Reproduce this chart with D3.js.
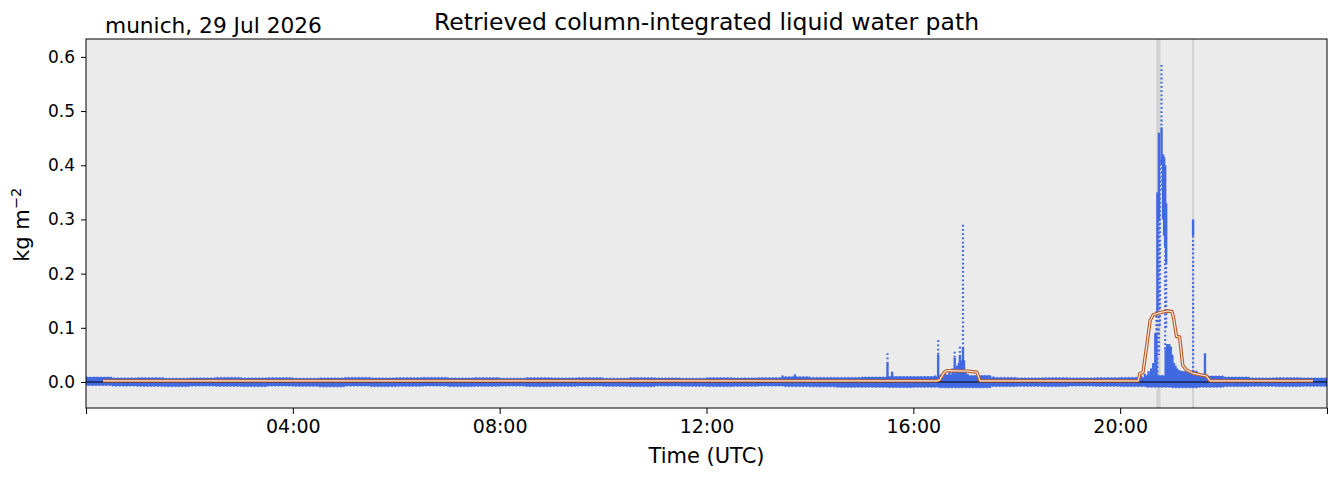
<!DOCTYPE html>
<html>
<head>
<meta charset="utf-8">
<script src="https://cdn.jsdelivr.net/npm/d3@7"></script>
<style>
  body { margin: 0; background: #fff; }
  text { font-family: "DejaVu Sans", sans-serif; }
</style>
</head>
<body>
<svg id="chart"></svg>
<script>
// liquid water path, one day of retrievals (time in hours UTC, values in kg m-2)

// background noise band of the retrieval, every half hour
const noiseT = [0, 0.5, 1, 1.5, 2, 2.5, 3, 3.5, 4, 4.5, 5, 5.5, 6, 6.5, 7, 7.5, 8, 8.5, 9, 9.5,
  10, 10.5, 11, 11.5, 12, 12.5, 13, 13.5, 14, 14.5, 15, 15.5, 16, 16.5, 17, 17.5, 18, 18.5, 19, 19.5,
  20, 20.5, 21, 21.5, 22, 22.5, 23, 23.5, 24];
const noiseHi = [0.009, 0.0075, 0.008, 0.007, 0.0075, 0.0085, 0.0075, 0.008, 0.007, 0.0075, 0.0085, 0.0075, 0.008, 0.0085, 0.0075, 0.008, 0.007, 0.008, 0.0075, 0.008,
  0.007, 0.008, 0.0075, 0.007, 0.008, 0.0075, 0.008, 0.0095, 0.0085, 0.0085, 0.009, 0.01, 0.01, 0.013, 0.012, 0.0085, 0.0075, 0.008, 0.0075, 0.008,
  0.0085, 0.012, 0.02, 0.011, 0.009, 0.0075, 0.008, 0.0075, 0.008];
const noiseLo = [-0.0065, -0.0075, -0.008, -0.0085, -0.0075, -0.008, -0.0085, -0.0075, -0.008, -0.009, -0.0075, -0.0085, -0.008, -0.0075, -0.0085, -0.008, -0.0075, -0.0085, -0.008, -0.0075,
  -0.008, -0.0085, -0.0075, -0.008, -0.0085, -0.008, -0.0075, -0.0085, -0.009, -0.0095, -0.0095, -0.01, -0.0095, -0.0105, -0.0105, -0.0085, -0.008, -0.0085, -0.0075, -0.008,
  -0.0085, -0.0095, -0.0105, -0.0095, -0.0085, -0.008, -0.0085, -0.008, -0.0085];

// dense runs of retrieved points: time, lower value, upper value
const denseT  = [13.47, 13.71, 15.50, 15.59, 16.42, 16.48, 16.62, 16.70, 16.76, 16.80, 16.84, 16.88, 16.90, 16.94, 16.96, 16.98, 17.01, 17.05, 17.55,
  20.40, 20.48, 20.55, 20.60, 20.64, 20.68, 20.70, 20.72, 20.75, 20.80, 20.83, 20.85, 20.87, 20.89, 20.88, 20.91, 20.93, 20.95, 20.98, 21.01,
  21.04, 21.07, 21.10, 21.14, 21.18, 21.22, 21.26, 21.30, 21.35, 21.41, 21.41, 21.46, 21.64, 21.93];
const denseLo = [0, 0, 0, 0, 0, 0, 0, 0, 0, 0, 0, 0, 0, 0, 0, 0, 0, 0, 0,
  0, 0, 0, 0, 0, 0, 0, 0.13, 0.30, 0.40, 0.30, 0.27, 0.25, 0.22, 0, 0, 0, 0, 0, 0,
  0, 0, 0, 0, 0, 0, 0, 0, 0, 0, 0.27, 0, 0, 0];
const denseHi = [0.012, 0.014, 0.035, 0.019, 0.012, 0.05, 0.015, 0.02, 0.025, 0.045, 0.03, 0.035, 0.05, 0.04, 0.065, 0.04, 0.022, 0.015, 0.01,
  0.012, 0.015, 0.02, 0.025, 0.035, 0.09, 0.09, 0.35, 0.46, 0.47, 0.42, 0.415, 0.40, 0.33, 0.06, 0.07, 0.065, 0.07, 0.065, 0.05,
  0.035, 0.03, 0.025, 0.022, 0.02, 0.018, 0.015, 0.013, 0.012, 0.02, 0.30, 0.01, 0.053, 0.01];

// scattered retrieved points above the dense runs
const sparseT  = [15.50, 16.48, 16.80, 16.90, 16.96, 20.70, 20.72, 20.75, 20.77, 20.80, 20.81, 20.87, 20.89, 21.41];
const sparseLo = [0.035, 0.05, 0.045, 0.05, 0.065, 0.09, 0.0, 0.05, 0.10, 0.47, 0.35, 0.06, 0.10, 0.02];
const sparseHi = [0.053, 0.077, 0.056, 0.065, 0.29, 0.13, 0.13, 0.30, 0.41, 0.585, 0.42, 0.25, 0.22, 0.27];

// smoothed liquid water path
const smoothT = [0.33, 16.45, 16.51, 16.60, 16.65, 17.06, 17.23, 17.29, 20.35, 20.38, 20.44, 20.52, 20.58, 20.64,
  20.77, 20.91, 21.00, 21.03, 21.09, 21.15, 21.21, 21.28, 21.41, 21.67, 21.74, 23.73];
const smoothV = [0.002, 0.002, 0.004, 0.018, 0.021, 0.020, 0.018, 0.002, 0.002, 0.016, 0.017, 0.071, 0.114, 0.124,
  0.128, 0.131, 0.130, 0.120, 0.084, 0.083, 0.031, 0.022, 0.016, 0.011, 0.002, 0.002];

// flagged periods (grey bands)
const flagStart = [20.70, 21.39];
const flagEnd   = [20.78, 21.43];

const xTicks = [0, 4, 8, 12, 16, 20, 24];
const yTicks = [0, 0.1, 0.2, 0.3, 0.4, 0.5, 0.6];

const width = 1339, height = 478;
const margin = { top: 39, right: 12, bottom: 70, left: 86 };
const innerW = width - margin.left - margin.right;
const innerH = height - margin.top - margin.bottom;

const svg = d3.select("#chart").attr("width", width).attr("height", height);

const x = d3.scaleLinear().domain([0, 24]).range([0, innerW]);
const y = d3.scaleLinear().domain([-0.048, 0.633]).range([innerH, 0]);

const g = svg.append("g").attr("transform", `translate(${margin.left},${margin.top})`);

svg.append("defs").append("clipPath").attr("id", "clip")
  .append("rect").attr("width", innerW).attr("height", innerH);

g.append("rect").attr("width", innerW).attr("height", innerH).attr("fill", "#ebebeb");

const plot = g.append("g").attr("clip-path", "url(#clip)");

// grey flag bands
plot.selectAll("rect.flag")
  .data(flagStart.map((s, i) => [s, flagEnd[i]]))
  .join("rect")
  .attr("class", "flag")
  .attr("x", d => x(d[0]))
  .attr("width", d => x(d[1]) - x(d[0]))
  .attr("y", 0)
  .attr("height", innerH)
  .attr("fill", "#d2d2d2");

// noise band
const noise = noiseT.map((t, i) => ({ t, lo: noiseLo[i], hi: noiseHi[i] }));
plot.append("path")
  .datum(noise)
  .attr("fill", "royalblue")
  .attr("stroke", "royalblue")
  .attr("stroke-width", 0.8)
  .attr("stroke-dasharray", "2,1.5")
  .attr("d", d3.area().curve(d3.curveStepAfter)
    .x(d => x(d.t)).y0(d => y(d.lo)).y1(d => y(d.hi)));

// dense runs
plot.append("g")
  .attr("stroke", "royalblue")
  .attr("stroke-width", 2.4)
  .selectAll("line")
  .data(denseT.map((t, i) => ({ t, lo: denseLo[i], hi: denseHi[i] })))
  .join("line")
  .attr("x1", d => x(d.t)).attr("x2", d => x(d.t))
  .attr("y1", d => y(d.lo)).attr("y2", d => y(d.hi));

// scattered points
plot.append("g")
  .attr("stroke", "royalblue")
  .attr("stroke-width", 2.2)
  .attr("stroke-dasharray", "1.8,2.4")
  .selectAll("line")
  .data(sparseT.map((t, i) => ({ t, lo: sparseLo[i], hi: sparseHi[i] })))
  .join("line")
  .attr("x1", d => x(d.t)).attr("x2", d => x(d.t))
  .attr("y1", d => y(d.hi)).attr("y2", d => y(d.lo));

// zero line
plot.append("line")
  .attr("x1", 0).attr("x2", innerW)
  .attr("y1", y(0)).attr("y2", y(0))
  .attr("stroke", "#000").attr("stroke-width", 1);

// smoothed line with light core
const smooth = smoothT.map((t, i) => ({ t, v: smoothV[i] }));
const line = d3.line().x(d => x(d.t)).y(d => y(d.v));
plot.append("path").datum(smooth)
  .attr("fill", "none").attr("stroke", "#b85a26").attr("stroke-width", 3.4)
  .attr("stroke-linejoin", "round").attr("d", line);
plot.append("path").datum(smooth)
  .attr("fill", "none").attr("stroke", "#fbe9dc").attr("stroke-width", 1.2)
  .attr("stroke-linejoin", "round").attr("d", line);

// frame
g.append("rect").attr("width", innerW).attr("height", innerH)
  .attr("fill", "none").attr("stroke", "#000").attr("stroke-width", 1);

// axes
const pad = n => String(n).padStart(2, "0");
const xAxis = g.append("g")
  .attr("transform", `translate(0,${innerH})`)
  .call(d3.axisBottom(x).tickValues(xTicks).tickSize(6).tickPadding(6)
    .tickFormat(h => (h > 0 && h < 24) ? `${pad(h)}:00` : ""));
xAxis.select(".domain").remove();
xAxis.selectAll("text").attr("font-size", 19).attr("fill", "#000")
  .style("font-family", "DejaVu Sans");

const yAxis = g.append("g")
  .call(d3.axisLeft(y).tickValues(yTicks).tickSize(5).tickPadding(6)
    .tickFormat(d3.format(".1f")));
yAxis.select(".domain").remove();
yAxis.selectAll("text").attr("font-size", 17).attr("fill", "#000")
  .style("font-family", "DejaVu Sans");

// labels
svg.append("text")
  .attr("x", margin.left + innerW / 2).attr("y", 463)
  .attr("text-anchor", "middle").attr("font-size", 21)
  .text("Time (UTC)");

const yl = svg.append("text")
  .attr("transform", `translate(29,${margin.top + y(0.29)}) rotate(-90)`)
  .attr("text-anchor", "middle").attr("font-size", 21);
yl.append("tspan").text("kg m");
yl.append("tspan").attr("font-size", 14.5).attr("dy", -8).text("\u22122");

svg.append("text")
  .attr("x", margin.left + innerW / 2).attr("y", 30)
  .attr("text-anchor", "middle").attr("font-size", 23.5)
  .text("Retrieved column-integrated liquid water path");

svg.append("text")
  .attr("x", 105).attr("y", 33)
  .attr("font-size", 21.7)
  .text("munich, 29 Jul 2026");
</script>
</body>
</html>
